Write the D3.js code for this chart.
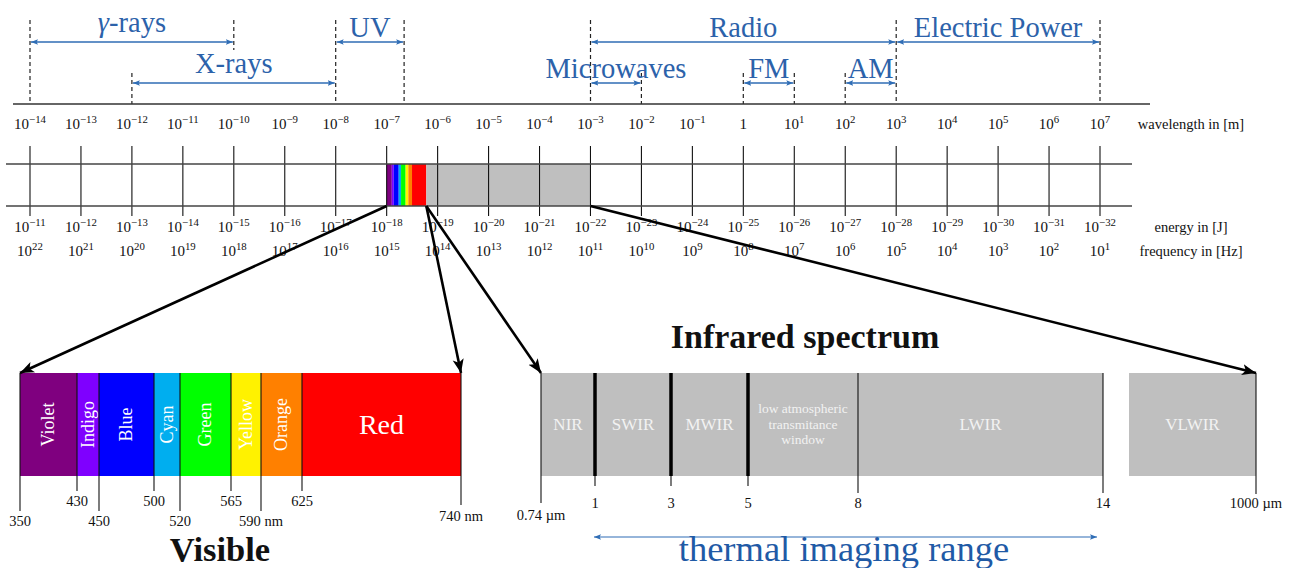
<!DOCTYPE html>
<html>
<head>
<meta charset="utf-8">
<script src="https://cdn.jsdelivr.net/npm/d3@7"></script>
<style>
  body { margin: 0; background: #fff; }
  svg, text { font-family: "Liberation Serif", "Times New Roman", serif; }
</style>
</head>
<body>
<div id="chart"></div>
<script>
// decades on the main axis (exponents of 10)
var wavelengthExp = [-14, -13, -12, -11, -10, -9, -8, -7, -6, -5, -4, -3, -2, -1, 0, 1, 2, 3, 4, 5, 6, 7];
var energyExp = [-11, -12, -13, -14, -15, -16, -17, -18, -19, -20, -21, -22, -23, -24, -25, -26, -27, -28, -29, -30, -31, -32];
var freqExp = [22, 21, 20, 19, 18, 17, 16, 15, 14, 13, 12, 11, 10, 9, 8, 7, 6, 5, 4, 3, 2, 1];

// named ranges above the axis (wavelength in m)
var rangeNames = ["γ-rays", "X-rays", "UV", "Radio", "Microwaves", "FM", "AM", "Electric Power"];
var rangeFrom = [1e-14, 1e-12, 1e-8, 1e-3, 1e-3, 1, 1e2, 1e3];
var rangeTo = [1e-10, 1e-8, 2.2e-7, 1e3, 1e-2, 10, 1e3, 1e7];
var rangeRow = [0, 1, 0, 0, 1, 1, 1, 0];

// visible spectrum (nm)
var visBounds = [350, 430, 450, 500, 520, 565, 590, 625, 740];
var visNames = ["Violet", "Indigo", "Blue", "Cyan", "Green", "Yellow", "Orange", "Red"];
var visColors = ["#7f007f", "#7f00ff", "#0000ff", "#00aeef", "#00ff00", "#fff200", "#ff8000", "#ff0000"];

// infrared spectrum (µm)
var irBounds = [0.74, 1, 3, 5, 8, 14];
var irNames = ["NIR", "SWIR", "MWIR", "low atmospheric|transmitance|window", "LWIR"];
var irThick = [false, true, true, true, false, false];
var vlwirRange = [14, 1000];
var thermalRange = [1, 14];

var width = 1289, height = 568;
var blue = "#2f6db5";

var svg = d3.select("#chart").append("svg")
  .attr("width", width)
  .attr("height", height);

var defs = svg.append("defs");
defs.append("marker")
  .attr("id", "blueHead")
  .attr("viewBox", "0 0 10 10")
  .attr("refX", 10).attr("refY", 5)
  .attr("markerWidth", 7).attr("markerHeight", 7)
  .attr("markerUnits", "userSpaceOnUse")
  .attr("orient", "auto-start-reverse")
  .append("path").attr("d", "M0,1 L10,5 L0,9 L2,5 Z").attr("fill", blue);
defs.append("marker")
  .attr("id", "blackHead")
  .attr("viewBox", "0 0 10 10")
  .attr("refX", 10).attr("refY", 5)
  .attr("markerWidth", 14).attr("markerHeight", 14)
  .attr("markerUnits", "userSpaceOnUse")
  .attr("orient", "auto")
  .append("path").attr("d", "M0,1 L10,5 L0,9 L2.5,5 Z").attr("fill", "#000");

// main log scale for wavelength
var x = d3.scaleLog().domain([1e-14, 1e7]).range([30, 1100]);

function powLabel(sel, e, y, size) {
  var t = sel.append("text")
    .attr("y", y)
    .attr("text-anchor", "middle")
    .attr("fill", "#111")
    .style("font-size", size + "px");
  if (e === 0) { t.text("1"); return t; }
  t.append("tspan").text("10");
  t.append("tspan")
    .attr("dy", -6)
    .style("font-size", (size * 0.72) + "px")
    .text(String(e).replace("-", "\u2212"));
  return t;
}

// ---- top: ranges ----
var topG = svg.append("g");
var arrowY = [42, 83];
var dashTop = [20, 73];

var ends = {};
rangeNames.forEach(function (n, i) {
  [rangeFrom[i], rangeTo[i]].forEach(function (v) {
    var px = Math.round(x(v) * 10) / 10;
    var y1 = dashTop[rangeRow[i]], y2 = 104;
    if (rangeRow[i] === 0) {
      rangeNames.forEach(function (m, j) {
        if (rangeRow[j] === 1 && v > rangeFrom[j] && v < rangeTo[j]) y2 = 50;
      });
    }
    if (!ends[px]) ends[px] = { x: px, y1: y1, y2: y2 };
    else {
      ends[px].y1 = Math.min(ends[px].y1, y1);
      ends[px].y2 = Math.max(ends[px].y2, y2);
    }
  });
});
topG.selectAll(".dash")
  .data(Object.values(ends))
  .enter().append("line")
  .attr("x1", function (d) { return d.x; })
  .attr("x2", function (d) { return d.x; })
  .attr("y1", function (d) { return d.y1; })
  .attr("y2", function (d) { return d.y2; })
  .attr("stroke", "#222")
  .attr("stroke-width", 1.2)
  .attr("stroke-dasharray", "4,3");

rangeNames.forEach(function (n, i) {
  var y = arrowY[rangeRow[i]];
  topG.append("line")
    .attr("x1", x(rangeFrom[i]) + 1).attr("x2", x(rangeTo[i]) - 1)
    .attr("y1", y).attr("y2", y)
    .attr("stroke", blue).attr("stroke-width", 1.4)
    .attr("marker-start", "url(#blueHead)")
    .attr("marker-end", "url(#blueHead)");
  var desc = /[γyp]/.test(n) ? 5 : 0;
  var t = topG.append("text")
    .attr("x", (x(rangeFrom[i]) + x(rangeTo[i])) / 2)
    .attr("y", y - 5 - desc)
    .attr("text-anchor", "middle")
    .attr("fill", "#2c62aa")
    .style("font-size", "28.5px");
  if (n.charAt(0) === "γ") {
    // greek letter set in math italic, like the original
    t.append("tspan").style("font-style", "italic").text("γ");
    t.append("tspan").text(n.slice(1));
  } else {
    t.text(n);
  }
});

// wavelength axis line and labels
topG.append("line")
  .attr("x1", 13).attr("x2", 1150).attr("y1", 104).attr("y2", 104)
  .attr("stroke", "#333").attr("stroke-width", 1.5);

wavelengthExp.forEach(function (e) {
  powLabel(topG, e, 129, 15).attr("x", x(Math.pow(10, e)));
});
topG.append("text").attr("x", 1191).attr("y", 129).attr("text-anchor", "middle")
  .style("font-size", "14.5px").attr("fill", "#111").text("wavelength in [m]");

// ---- middle bar ----
var mid = svg.append("g");
var barTop = 164, barBot = 206;

// schematic placement of visible + IR inside the middle bar
var visBar = [20, 461];
var visX = d3.scaleLinear().domain(visBounds).range([20, 77, 99, 154, 180, 231, 261, 302, 461]);
var midMap = d3.scaleLinear().domain(visBar).range([x(1e-7), x(6e-7)]);
function midX(nm) { return midMap(visX(nm)); }

visNames.forEach(function (n, i) {
  mid.append("rect")
    .attr("x", midX(visBounds[i]))
    .attr("width", midX(visBounds[i + 1]) - midX(visBounds[i]))
    .attr("y", barTop).attr("height", barBot - barTop)
    .attr("fill", visColors[i]);
});
mid.append("rect")
  .attr("x", x(6e-7)).attr("width", x(1e-3) - x(6e-7))
  .attr("y", barTop).attr("height", barBot - barTop)
  .attr("fill", "#bfbfbf");

wavelengthExp.forEach(function (e) {
  var px = x(Math.pow(10, e));
  mid.append("line")
    .attr("x1", px).attr("x2", px).attr("y1", 146).attr("y2", 216)
    .attr("stroke", "#111").attr("stroke-width", 1.1);
});
[barTop, barBot].forEach(function (y) {
  mid.append("line")
    .attr("x1", 6).attr("x2", 1132).attr("y1", y).attr("y2", y)
    .attr("stroke", "#444").attr("stroke-width", 1.5);
});

energyExp.forEach(function (e, i) {
  powLabel(mid, e, 232, 15).attr("x", x(Math.pow(10, wavelengthExp[i])));
});
freqExp.forEach(function (e, i) {
  powLabel(mid, e, 256, 15).attr("x", x(Math.pow(10, wavelengthExp[i])));
});
mid.append("text").attr("x", 1191).attr("y", 232).attr("text-anchor", "middle")
  .style("font-size", "14.5px").attr("fill", "#111").text("energy in [J]");
mid.append("text").attr("x", 1191).attr("y", 256).attr("text-anchor", "middle")
  .style("font-size", "14.5px").attr("fill", "#111").text("frequency in [Hz]");

// ---- lower bars ----
var low = svg.append("g");
var lbTop = 373, lbBot = 476, lbMid = (lbTop + lbBot) / 2;

// visible
visNames.forEach(function (n, i) {
  var x0 = visX(visBounds[i]), x1 = visX(visBounds[i + 1]);
  low.append("rect")
    .attr("x", x0).attr("width", x1 - x0)
    .attr("y", lbTop).attr("height", lbBot - lbTop)
    .attr("fill", visColors[i]);
  var cx = (x0 + x1) / 2;
  if (n === "Red") {
    low.append("text").attr("x", cx).attr("y", lbMid).attr("dy", "0.35em")
      .attr("text-anchor", "middle").attr("fill", "#fff")
      .style("font-size", "28px").text(n);
  } else {
    low.append("text")
      .attr("transform", "translate(" + cx + "," + lbMid + ") rotate(-90)")
      .attr("dy", "0.33em")
      .attr("text-anchor", "middle").attr("fill", "#fff")
      .style("font-size", "18px").text(n);
  }
});
visBounds.forEach(function (b, i) {
  var px = visX(b);
  var last = i === visBounds.length - 1;
  var high = i % 2 === 1;
  var y2 = last ? 505 : (high ? 491 : 511);
  low.append("line")
    .attr("x1", px).attr("x2", px).attr("y1", lbTop).attr("y2", y2)
    .attr("stroke", "#111").attr("stroke-width", 1.1);
  low.append("text")
    .attr("x", px).attr("y", last ? 521 : (high ? 506 : 526))
    .attr("text-anchor", "middle").attr("fill", "#111")
    .style("font-size", "14.5px")
    .text(b + ((b === 590 || b === 740) ? " nm" : ""));
});
low.append("text").attr("x", 220).attr("y", 561).attr("text-anchor", "middle")
  .attr("fill", "#111").style("font-size", "34.5px").style("font-weight", "bold")
  .text("Visible");

// infrared
var irX = d3.scaleLinear().domain(irBounds).range([541, 595, 671, 748, 858, 1103]);
var vlX = d3.scaleLinear().domain(vlwirRange).range([1129, 1256]);

irNames.forEach(function (n, i) {
  var x0 = irX(irBounds[i]), x1 = irX(irBounds[i + 1]);
  low.append("rect")
    .attr("x", x0).attr("width", x1 - x0)
    .attr("y", lbTop).attr("height", lbBot - lbTop)
    .attr("fill", "#bfbfbf");
  var lines = n.split("|");
  var t = low.append("text")
    .attr("x", (x0 + x1) / 2).attr("text-anchor", "middle")
    .attr("fill", "#f2f2f2")
    .style("font-size", lines.length > 1 ? "13.5px" : "17px");
  if (lines.length > 1) {
    lines.forEach(function (l, k) {
      t.append("tspan").attr("x", (x0 + x1) / 2)
        .attr("y", lbMid - 16 + k * 15.5).attr("dy", "0.35em").text(l);
    });
  } else {
    t.attr("y", lbMid).attr("dy", "0.35em").text(n);
  }
});
low.append("rect")
  .attr("x", vlX(vlwirRange[0])).attr("width", vlX(vlwirRange[1]) - vlX(vlwirRange[0]))
  .attr("y", lbTop).attr("height", lbBot - lbTop)
  .attr("fill", "#bfbfbf");
low.append("text")
  .attr("x", (vlX(vlwirRange[0]) + vlX(vlwirRange[1])) / 2)
  .attr("y", lbMid).attr("dy", "0.35em").attr("text-anchor", "middle")
  .attr("fill", "#f2f2f2").style("font-size", "17px").text("VLWIR");

irBounds.forEach(function (b, i) {
  var px = irX(b);
  if (irThick[i]) {
    low.append("line")
      .attr("x1", px).attr("x2", px).attr("y1", lbTop).attr("y2", lbBot)
      .attr("stroke", "#000").attr("stroke-width", 3.5);
  }
  low.append("line")
    .attr("x1", px).attr("x2", px)
    .attr("y1", irThick[i] ? lbBot : lbTop)
    .attr("y2", i === 0 ? 503 : (irThick[i] ? 486 : 493))
    .attr("stroke", "#111").attr("stroke-width", 1.1);
  low.append("text")
    .attr("x", px).attr("y", i === 0 ? 520 : 508)
    .attr("text-anchor", "middle").attr("fill", "#111")
    .style("font-size", "14.5px")
    .text(i === 0 ? b + " µm" : b);
});
low.append("line")
  .attr("x1", vlX(1000)).attr("x2", vlX(1000)).attr("y1", lbTop).attr("y2", 494)
  .attr("stroke", "#111").attr("stroke-width", 1.1);
low.append("text")
  .attr("x", vlX(1000)).attr("y", 508).attr("text-anchor", "middle")
  .attr("fill", "#111").style("font-size", "14.5px").text("1000 µm");

low.append("text").attr("x", 805).attr("y", 348).attr("text-anchor", "middle")
  .attr("fill", "#111").style("font-size", "34px").style("font-weight", "bold")
  .text("Infrared spectrum");

// thermal imaging range
low.append("line")
  .attr("x1", irX(thermalRange[0]) - 1).attr("x2", irX(thermalRange[1]) - 6)
  .attr("y1", 537).attr("y2", 537)
  .attr("stroke", blue).attr("stroke-width", 1.2)
  .attr("marker-start", "url(#blueHead)")
  .attr("marker-end", "url(#blueHead)");
low.append("text").attr("x", 844).attr("y", 561).attr("text-anchor", "middle")
  .attr("fill", "#1f5aa6").style("font-size", "36.5px")
  .text("thermal imaging range");

// ---- zoom arrows from middle bar to lower bars ----
var arrows = [
  [midX(350), visX(350)],
  [midX(740), visX(740)],
  [midX(740), irX(0.74)],
  [x(1e-3), vlX(1000)]
];
svg.append("g").selectAll("line")
  .data(arrows)
  .enter().append("line")
  .attr("x1", function (d) { return d[0]; })
  .attr("y1", barBot)
  .attr("x2", function (d) { return d[1]; })
  .attr("y2", lbTop)
  .attr("stroke", "#000").attr("stroke-width", 2.6)
  .attr("marker-end", "url(#blackHead)");
</script>
</body>
</html>
